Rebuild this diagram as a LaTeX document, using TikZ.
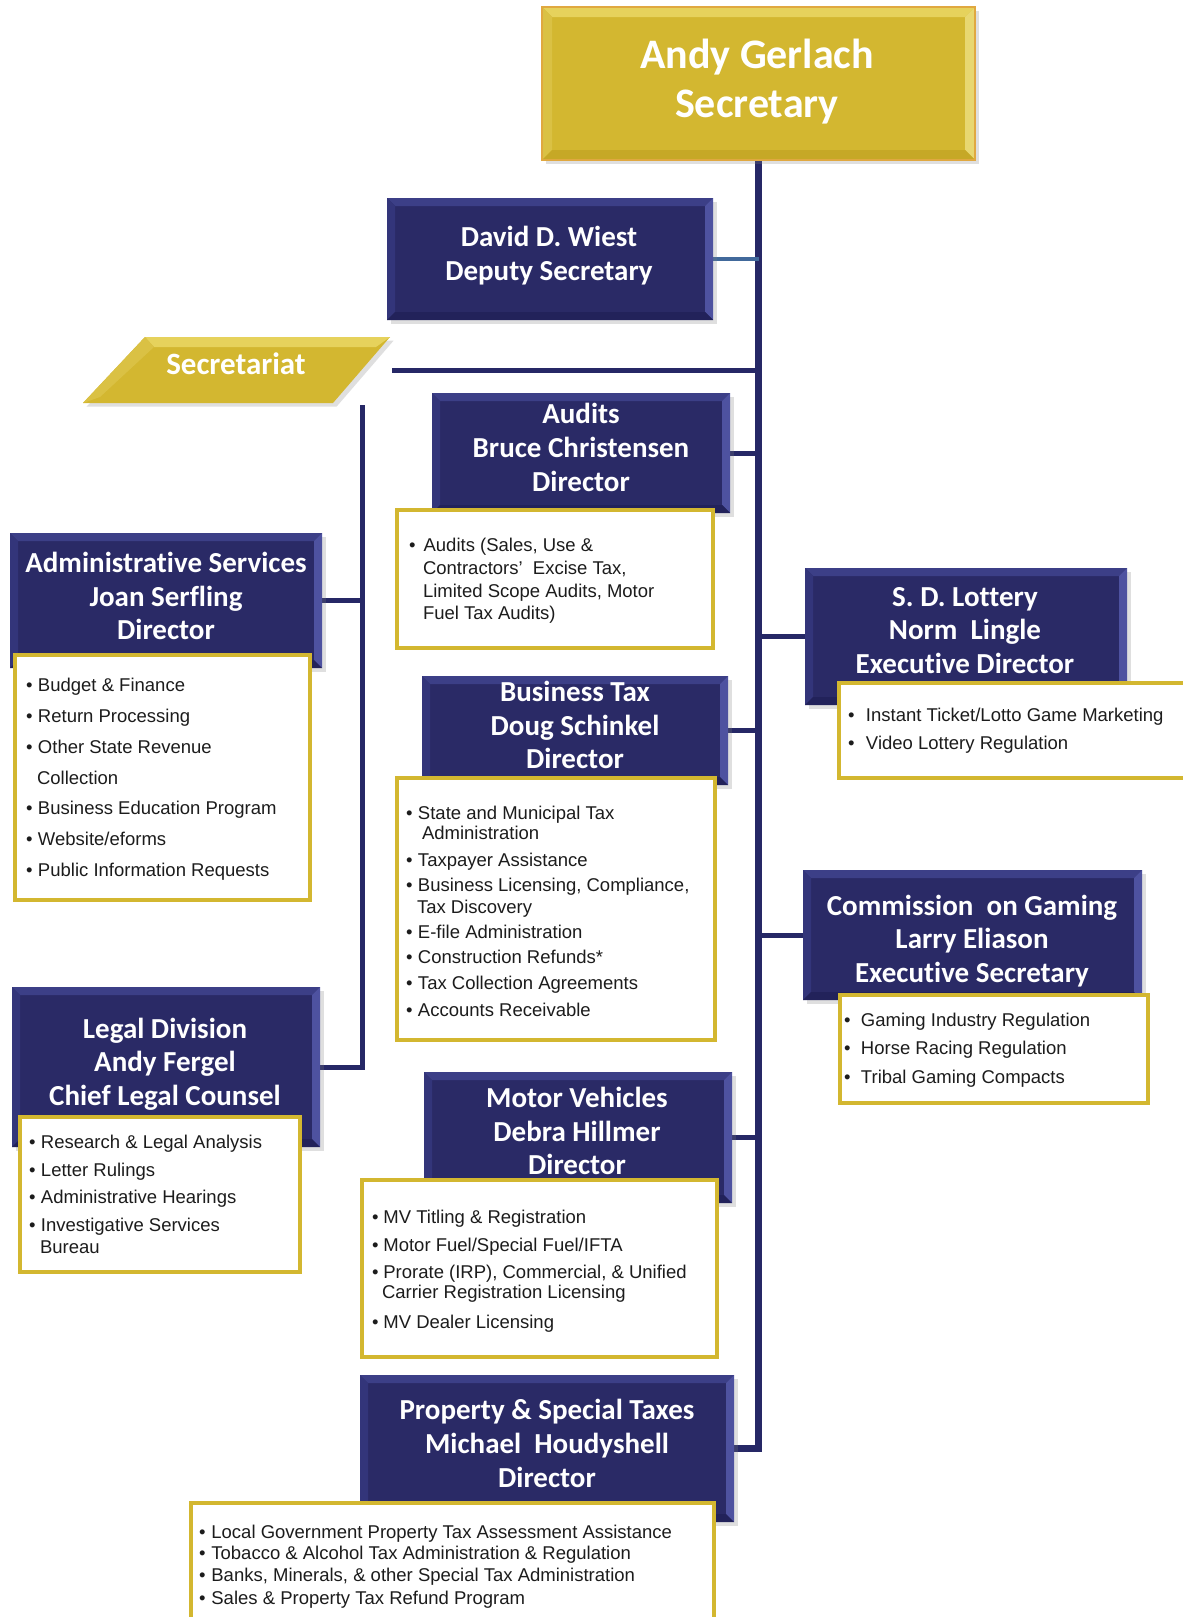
\documentclass[tikz,border=0pt]{standalone}
\usepackage{fontspec}
\newfontfamily\listfont{Liberation Sans}
\newfontfamily\titlefont[Ligatures={NoCommon}]{Carlito}
\usetikzlibrary{shadows,fit,backgrounds}
\definecolor{navy}{HTML}{2A2A66}
\definecolor{navyT}{HTML}{3C3F87}
\definecolor{navyL}{HTML}{33357A}
\definecolor{navyR}{HTML}{4E52A0}
\definecolor{navyB}{HTML}{22225A}
\definecolor{gold}{HTML}{D3B730}
\definecolor{goldT}{HTML}{E6D25C}
\definecolor{goldL}{HTML}{DAC144}
\definecolor{goldR}{HTML}{E8D770}
\definecolor{goldB}{HTML}{C6A826}
\definecolor{goldE}{HTML}{E0A840}
\definecolor{linec}{HTML}{262866}
\definecolor{depc}{HTML}{41699B}
\definecolor{txt}{HTML}{1C1C1C}
\newcommand\bl[1]{\makebox[#1][l]{\textbullet}}
\begin{document}
\begin{tikzpicture}[x=0.5pt,y=-0.5pt,
  every node/.style={inner sep=0pt,outer sep=0pt},
  bevel/.style n args={2}{path picture={
    \path (path picture bounding box.north west) coordinate (pNW)
          (path picture bounding box.north east) coordinate (pNE)
          (path picture bounding box.south west) coordinate (pSW)
          (path picture bounding box.south east) coordinate (pSE);
    \fill[#1T] (pNW) -- (pNE) -- ([xshift=-#2,yshift=-#2]pNE) -- ([xshift=#2,yshift=-#2]pNW) -- cycle;
    \fill[#1L] (pNW) -- ([xshift=#2,yshift=-#2]pNW) -- ([xshift=#2,yshift=#2]pSW) -- (pSW) -- cycle;
    \fill[#1R] (pNE) -- (pSE) -- ([xshift=-#2,yshift=#2]pSE) -- ([xshift=-#2,yshift=-#2]pNE) -- cycle;
    \fill[#1B] (pSW) -- (pSE) -- ([xshift=-#2,yshift=#2]pSE) -- ([xshift=#2,yshift=#2]pSW) -- cycle;
  }},
  softshadow/.style={drop shadow={shadow xshift=1.8pt,shadow yshift=-1.8pt,opacity=.25}},
  navybox/.style={rectangle,fill=navy,softshadow,bevel={navy}{4pt}},
  goldbox/.style={rectangle,fill=gold,draw=goldE,line width=.8pt,softshadow,bevel={gold}{5pt}},
  listbox/.style={rectangle,fill=white,draw=gold,line width=2pt},
  title/.style={text=white,align=center,font=\titlefont\bfseries\fontsize{14.5}{16.8}\selectfont},
  item/.style={anchor=base west,text=txt,font=\listfont\fontsize{9.25}{11}\selectfont},
  conn/.style={draw=linec,line width=2.5pt},
  mainconn/.style={draw=linec,line width=3.2pt},
  depconn/.style={draw=depc,line width=2pt}]
\useasboundingbox (0,0) rectangle (1183,1617);
\clip (0,0) rectangle (1183,1617);

% Secretary
\node[goldbox,fit={(542,7) (975,160)}] (sec) {};
\node[title,font=\titlefont\bfseries\fontsize{21}{24.5}\selectfont] (sec-t) at (757,81.5) {Andy Gerlach\\Secretary};

% Deputy
\node[navybox,fit={(387,198) (713,320)}] (dep) {};
\node[title,font=\titlefont\bfseries\fontsize{14.5}{17}\selectfont] (dep-t) at (549,256) {David D. Wiest\\Deputy Secretary};

% Secretariat
\path[fill=gold,softshadow] (145,337) -- (390,337) -- (333,403) -- (83,403) -- cycle;
\fill[goldT] (145,337) -- (390,337) -- (376,347) -- (154,347) -- cycle;
\fill[goldL] (145,337) -- (154,347) -- (100,397) -- (83,403) -- cycle;
\node[title,font=\titlefont\bfseries\fontsize{15.5}{18}\selectfont] (secr) at (236,364) {Secretariat};
\coordinate (secr-end) at (392,370);
\coordinate (left-top) at (362,405);

% Audits
\node[navybox,fit={(432,393) (730,513)}] (aud) {};
\node[listbox,fit={(397,510) (713,648)}] (aud-l) {};
\node[title] (aud-t) at (581,447.5) {Audits\\Bruce Christensen\\Director};
\foreach \xx/\yy/\tx [count=\i] in {
  409/551/{\bl{7.3pt}Audits (Sales, Use \&},
  423/574/{Contractors’\ \ Excise Tax,},
  423/597/{Limited Scope Audits, Motor},
  423/619/{Fuel Tax Audits)}}
  \node[item] (aud-\i) at (\xx,\yy) {\tx};

% Administrative Services
\node[navybox,fit={(10,533) (322,668)}] (adm) {};
\node[listbox,fit={(15,655) (310,900)}] (adm-l) {};
\node[title] (adm-t) at (166,596) {Administrative Services\\Joan Serfling\\Director};
\foreach \xx/\yy/\tx [count=\i] in {
  26/691/{\bl{6pt}Budget \& Finance},
  26/722/{\bl{6pt}Return Processing},
  26/753/{\bl{6pt}Other State Revenue},
  37/784/{Collection},
  26/814/{\bl{6pt}Business Education Program},
  26/845/{\bl{6pt}Website/eforms},
  26/876/{\bl{6pt}Public Information Requests}}
  \node[item] (adm-\i) at (\xx,\yy) {\tx};

% Lottery
\node[navybox,fit={(805,568) (1127,705)}] (lot) {};
\node[listbox,fit={(839,683) (1200,778)}] (lot-l) {};
\node[title] (lot-t) at (965,630.5) {S. D. Lottery\\Norm\ \ Lingle\\Executive Director};
\foreach \xx/\yy/\tx [count=\i] in {
  848/721/{\bl{9pt}Instant Ticket/Lotto Game Marketing},
  848/749/{\bl{9pt}Video Lottery Regulation}}
  \node[item] (lot-\i) at (\xx,\yy) {\tx};

% Business Tax
\node[navybox,fit={(422,676) (728,785)}] (biz) {};
\node[listbox,fit={(397,778) (715,1040)}] (biz-l) {};
\node[title] (biz-t) at (575,725) {Business Tax\\Doug Schinkel\\Director};
\foreach \xx/\yy/\tx [count=\i] in {
  406/819/{\bl{6pt}State and Municipal Tax},
  422/839/{Administration},
  406/866/{\bl{6pt}Taxpayer Assistance},
  406/891/{\bl{6pt}Business Licensing, Compliance,},
  417/913/{Tax Discovery},
  406/938/{\bl{6pt}E-file Administration},
  406/963/{\bl{6pt}Construction Refunds*},
  406/989/{\bl{6pt}Tax Collection Agreements},
  406/1016/{\bl{6pt}Accounts Receivable}}
  \node[item] (biz-\i) at (\xx,\yy) {\tx};

% Gaming
\node[navybox,fit={(803,870) (1142,1000)}] (gam) {};
\node[listbox,fit={(840,995) (1148,1103)}] (gam-l) {};
\node[title] (gam-t) at (972,941) {Commission\ \ on Gaming\\Larry Eliason\\Executive Secretary};
\foreach \xx/\yy/\tx [count=\i] in {
  844/1026/{\bl{8.5pt}Gaming Industry Regulation},
  844/1054/{\bl{8.5pt}Horse Racing Regulation},
  844/1083/{\bl{8.5pt}Tribal Gaming Compacts}}
  \node[item] (gam-\i) at (\xx,\yy) {\tx};

% Legal
\node[navybox,fit={(12,987) (320,1147)}] (leg) {};
\node[listbox,fit={(20,1117) (300,1272)}] (leg-l) {};
\node[title] (leg-t) at (165,1064) {Legal Division\\Andy Fergel\\Chief Legal Counsel};
\foreach \xx/\yy/\tx [count=\i] in {
  29/1148/{\bl{6pt}Research \& Legal Analysis},
  29/1176/{\bl{6pt}Letter Rulings},
  29/1203/{\bl{6pt}Administrative Hearings},
  29/1231/{\bl{6pt}Investigative Services},
  40/1253/{Bureau}}
  \node[item] (leg-\i) at (\xx,\yy) {\tx};

% Motor Vehicles
\node[navybox,fit={(424,1072) (732,1203)}] (mv) {};
\node[listbox,fit={(362,1180) (717,1357)}] (mv-l) {};
\node[title] (mv-t) at (577,1131) {Motor Vehicles\\Debra Hillmer\\Director};
\foreach \xx/\yy/\tx [count=\i] in {
  372/1223/{\bl{5.7pt}MV Titling \& Registration},
  372/1251/{\bl{5.7pt}Motor Fuel/Special Fuel/IFTA},
  372/1278/{\bl{5.7pt}Prorate (IRP), Commercial, \& Unified},
  382/1298/{Carrier Registration Licensing},
  372/1328/{\bl{5.7pt}MV Dealer Licensing}}
  \node[item] (mv-\i) at (\xx,\yy) {\tx};

% Property & Special Taxes
\node[navybox,fit={(360,1375) (734,1522)}] (prop) {};
\node[listbox,fit={(191,1503) (714,1650)}] (prop-l) {};
\node[title] (prop-t) at (547,1443.5) {Property \& Special Taxes\\Michael\ \ Houdyshell\\Director};
\foreach \xx/\yy/\tx [count=\i] in {
  199/1538/{\bl{6.2pt}Local Government Property Tax Assessment Assistance},
  199/1559/{\bl{6.2pt}Tobacco \& Alcohol Tax Administration \& Regulation},
  199/1581/{\bl{6.2pt}Banks, Minerals, \& other Special Tax Administration},
  199/1604/{\bl{6.2pt}Sales \& Property Tax Refund Program}}
  \node[item] (prop-\i) at (\xx,\yy) {\tx};

% connectors
\begin{scope}[on background layer]
\fill[white] (0,0) rectangle (1183,1617);
\draw[mainconn] (sec.south) |- (prop.east);
\draw[depconn] (dep.east) -- (dep.east -| sec.south);
\draw[conn] (secr-end) -- (secr-end -| sec.south);
\draw[conn] (aud.east) -- (aud.east -| sec.south);
\draw[conn] (biz.east) -- (biz.east -| sec.south);
\draw[conn] (mv.east) -- (mv.east -| sec.south);
\draw[conn] (sec.south |- lot.west) -- (lot.west);
\draw[conn] (sec.south |- gam.west) -- (gam.west);
\draw[conn] (left-top) |- (leg.east);
\draw[conn] (adm.east) -- (adm.east -| left-top);
\end{scope}
\end{tikzpicture}
\end{document}
